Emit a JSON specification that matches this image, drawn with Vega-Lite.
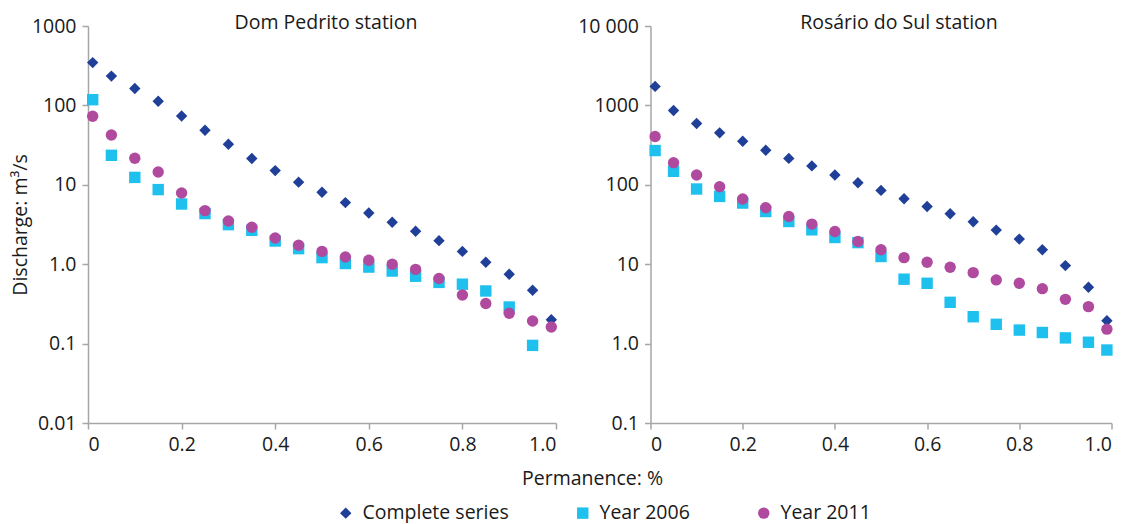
{
  "$schema": "https://vega.github.io/schema/vega-lite/v6.json",
  "padding": {"left": 10, "top": 12, "right": 0, "bottom": 0},
  "background": "white",
  "bounds": "flush",
  "config": {
    "font": "Open Sans",
    "view": {"stroke": null},
    "axis": {
      "grid": false,
      "domainColor": "#a6a6a6",
      "tickColor": "#a6a6a6",
      "domainWidth": 1.5,
      "tickWidth": 1.5,
      "tickSize": 6,
      "labelFont": "Open Sans",
      "labelFontSize": 19.5,
      "labelColor": "#1a1a1a",
      "labelPadding": 6,
      "titleFont": "Open Sans",
      "titleFontSize": 19.5,
      "titleFontWeight": "normal",
      "titleColor": "#1a1a1a"
    },
    "title": {"font": "Open Sans", "fontSize": 19.5, "fontWeight": "normal", "color": "#1a1a1a"},
    "legend": {"labelFont": "Open Sans", "labelFontSize": 19.5, "labelColor": "#1a1a1a", "padding": 0}
  },
  "datasets": {
    "d": [
      {"station": "Dom Pedrito", "series": "Complete series", "p": 0.01, "q": 346},
      {"station": "Dom Pedrito", "series": "Complete series", "p": 0.05, "q": 234},
      {"station": "Dom Pedrito", "series": "Complete series", "p": 0.10, "q": 163},
      {"station": "Dom Pedrito", "series": "Complete series", "p": 0.15, "q": 113},
      {"station": "Dom Pedrito", "series": "Complete series", "p": 0.20, "q": 73.6},
      {"station": "Dom Pedrito", "series": "Complete series", "p": 0.25, "q": 48.6},
      {"station": "Dom Pedrito", "series": "Complete series", "p": 0.30, "q": 32.4},
      {"station": "Dom Pedrito", "series": "Complete series", "p": 0.35, "q": 21.4},
      {"station": "Dom Pedrito", "series": "Complete series", "p": 0.40, "q": 15.1},
      {"station": "Dom Pedrito", "series": "Complete series", "p": 0.45, "q": 10.8},
      {"station": "Dom Pedrito", "series": "Complete series", "p": 0.50, "q": 8.05},
      {"station": "Dom Pedrito", "series": "Complete series", "p": 0.55, "q": 5.97},
      {"station": "Dom Pedrito", "series": "Complete series", "p": 0.60, "q": 4.41},
      {"station": "Dom Pedrito", "series": "Complete series", "p": 0.65, "q": 3.37},
      {"station": "Dom Pedrito", "series": "Complete series", "p": 0.70, "q": 2.6},
      {"station": "Dom Pedrito", "series": "Complete series", "p": 0.75, "q": 1.98},
      {"station": "Dom Pedrito", "series": "Complete series", "p": 0.80, "q": 1.45},
      {"station": "Dom Pedrito", "series": "Complete series", "p": 0.85, "q": 1.06},
      {"station": "Dom Pedrito", "series": "Complete series", "p": 0.90, "q": 0.746},
      {"station": "Dom Pedrito", "series": "Complete series", "p": 0.95, "q": 0.469},
      {"station": "Dom Pedrito", "series": "Complete series", "p": 0.99, "q": 0.2},
      {"station": "Dom Pedrito", "series": "Year 2006", "p": 0.01, "q": 118},
      {"station": "Dom Pedrito", "series": "Year 2006", "p": 0.05, "q": 23.5},
      {"station": "Dom Pedrito", "series": "Year 2006", "p": 0.10, "q": 12.4},
      {"station": "Dom Pedrito", "series": "Year 2006", "p": 0.15, "q": 8.7},
      {"station": "Dom Pedrito", "series": "Year 2006", "p": 0.20, "q": 5.73},
      {"station": "Dom Pedrito", "series": "Year 2006", "p": 0.25, "q": 4.34},
      {"station": "Dom Pedrito", "series": "Year 2006", "p": 0.30, "q": 3.15},
      {"station": "Dom Pedrito", "series": "Year 2006", "p": 0.35, "q": 2.67},
      {"station": "Dom Pedrito", "series": "Year 2006", "p": 0.40, "q": 1.96},
      {"station": "Dom Pedrito", "series": "Year 2006", "p": 0.45, "q": 1.57},
      {"station": "Dom Pedrito", "series": "Year 2006", "p": 0.50, "q": 1.21},
      {"station": "Dom Pedrito", "series": "Year 2006", "p": 0.55, "q": 1.02},
      {"station": "Dom Pedrito", "series": "Year 2006", "p": 0.60, "q": 0.92},
      {"station": "Dom Pedrito", "series": "Year 2006", "p": 0.65, "q": 0.82},
      {"station": "Dom Pedrito", "series": "Year 2006", "p": 0.70, "q": 0.705},
      {"station": "Dom Pedrito", "series": "Year 2006", "p": 0.75, "q": 0.59},
      {"station": "Dom Pedrito", "series": "Year 2006", "p": 0.80, "q": 0.56},
      {"station": "Dom Pedrito", "series": "Year 2006", "p": 0.85, "q": 0.46},
      {"station": "Dom Pedrito", "series": "Year 2006", "p": 0.90, "q": 0.289},
      {"station": "Dom Pedrito", "series": "Year 2006", "p": 0.95, "q": 0.095},
      {"station": "Dom Pedrito", "series": "Year 2011", "p": 0.01, "q": 72.9},
      {"station": "Dom Pedrito", "series": "Year 2011", "p": 0.05, "q": 42.4},
      {"station": "Dom Pedrito", "series": "Year 2011", "p": 0.10, "q": 21.6},
      {"station": "Dom Pedrito", "series": "Year 2011", "p": 0.15, "q": 14.5},
      {"station": "Dom Pedrito", "series": "Year 2011", "p": 0.20, "q": 7.9},
      {"station": "Dom Pedrito", "series": "Year 2011", "p": 0.25, "q": 4.73},
      {"station": "Dom Pedrito", "series": "Year 2011", "p": 0.30, "q": 3.5},
      {"station": "Dom Pedrito", "series": "Year 2011", "p": 0.35, "q": 2.92},
      {"station": "Dom Pedrito", "series": "Year 2011", "p": 0.40, "q": 2.14},
      {"station": "Dom Pedrito", "series": "Year 2011", "p": 0.45, "q": 1.73},
      {"station": "Dom Pedrito", "series": "Year 2011", "p": 0.50, "q": 1.45},
      {"station": "Dom Pedrito", "series": "Year 2011", "p": 0.55, "q": 1.23},
      {"station": "Dom Pedrito", "series": "Year 2011", "p": 0.60, "q": 1.12},
      {"station": "Dom Pedrito", "series": "Year 2011", "p": 0.65, "q": 1.0},
      {"station": "Dom Pedrito", "series": "Year 2011", "p": 0.70, "q": 0.86},
      {"station": "Dom Pedrito", "series": "Year 2011", "p": 0.75, "q": 0.66},
      {"station": "Dom Pedrito", "series": "Year 2011", "p": 0.80, "q": 0.41},
      {"station": "Dom Pedrito", "series": "Year 2011", "p": 0.85, "q": 0.32},
      {"station": "Dom Pedrito", "series": "Year 2011", "p": 0.90, "q": 0.241},
      {"station": "Dom Pedrito", "series": "Year 2011", "p": 0.95, "q": 0.193},
      {"station": "Dom Pedrito", "series": "Year 2011", "p": 0.99, "q": 0.162},
      {"station": "Rosário do Sul", "series": "Complete series", "p": 0.01, "q": 1734},
      {"station": "Rosário do Sul", "series": "Complete series", "p": 0.05, "q": 862},
      {"station": "Rosário do Sul", "series": "Complete series", "p": 0.10, "q": 591},
      {"station": "Rosário do Sul", "series": "Complete series", "p": 0.15, "q": 451},
      {"station": "Rosário do Sul", "series": "Complete series", "p": 0.20, "q": 353},
      {"station": "Rosário do Sul", "series": "Complete series", "p": 0.25, "q": 272},
      {"station": "Rosário do Sul", "series": "Complete series", "p": 0.30, "q": 215},
      {"station": "Rosário do Sul", "series": "Complete series", "p": 0.35, "q": 173},
      {"station": "Rosário do Sul", "series": "Complete series", "p": 0.40, "q": 133},
      {"station": "Rosário do Sul", "series": "Complete series", "p": 0.45, "q": 106},
      {"station": "Rosário do Sul", "series": "Complete series", "p": 0.50, "q": 85},
      {"station": "Rosário do Sul", "series": "Complete series", "p": 0.55, "q": 66.8},
      {"station": "Rosário do Sul", "series": "Complete series", "p": 0.60, "q": 53.4},
      {"station": "Rosário do Sul", "series": "Complete series", "p": 0.65, "q": 43.2},
      {"station": "Rosário do Sul", "series": "Complete series", "p": 0.70, "q": 34.2},
      {"station": "Rosário do Sul", "series": "Complete series", "p": 0.75, "q": 26.9},
      {"station": "Rosário do Sul", "series": "Complete series", "p": 0.80, "q": 20.7},
      {"station": "Rosário do Sul", "series": "Complete series", "p": 0.85, "q": 15.2},
      {"station": "Rosário do Sul", "series": "Complete series", "p": 0.90, "q": 9.6},
      {"station": "Rosário do Sul", "series": "Complete series", "p": 0.95, "q": 5.12},
      {"station": "Rosário do Sul", "series": "Complete series", "p": 0.99, "q": 1.94},
      {"station": "Rosário do Sul", "series": "Year 2006", "p": 0.01, "q": 270},
      {"station": "Rosário do Sul", "series": "Year 2006", "p": 0.05, "q": 148},
      {"station": "Rosário do Sul", "series": "Year 2006", "p": 0.10, "q": 88.5},
      {"station": "Rosário do Sul", "series": "Year 2006", "p": 0.15, "q": 71.4},
      {"station": "Rosário do Sul", "series": "Year 2006", "p": 0.20, "q": 58.9},
      {"station": "Rosário do Sul", "series": "Year 2006", "p": 0.25, "q": 46.1},
      {"station": "Rosário do Sul", "series": "Year 2006", "p": 0.30, "q": 34.5},
      {"station": "Rosário do Sul", "series": "Year 2006", "p": 0.35, "q": 27.1},
      {"station": "Rosário do Sul", "series": "Year 2006", "p": 0.40, "q": 21.7},
      {"station": "Rosário do Sul", "series": "Year 2006", "p": 0.45, "q": 18.7},
      {"station": "Rosário do Sul", "series": "Year 2006", "p": 0.50, "q": 12.5},
      {"station": "Rosário do Sul", "series": "Year 2006", "p": 0.55, "q": 6.47},
      {"station": "Rosário do Sul", "series": "Year 2006", "p": 0.60, "q": 5.75},
      {"station": "Rosário do Sul", "series": "Year 2006", "p": 0.65, "q": 3.31},
      {"station": "Rosário do Sul", "series": "Year 2006", "p": 0.70, "q": 2.18},
      {"station": "Rosário do Sul", "series": "Year 2006", "p": 0.75, "q": 1.75},
      {"station": "Rosário do Sul", "series": "Year 2006", "p": 0.80, "q": 1.48},
      {"station": "Rosário do Sul", "series": "Year 2006", "p": 0.85, "q": 1.38},
      {"station": "Rosário do Sul", "series": "Year 2006", "p": 0.90, "q": 1.18},
      {"station": "Rosário do Sul", "series": "Year 2006", "p": 0.95, "q": 1.04},
      {"station": "Rosário do Sul", "series": "Year 2006", "p": 0.99, "q": 0.83},
      {"station": "Rosário do Sul", "series": "Year 2011", "p": 0.01, "q": 405},
      {"station": "Rosário do Sul", "series": "Year 2011", "p": 0.05, "q": 190},
      {"station": "Rosário do Sul", "series": "Year 2011", "p": 0.10, "q": 133},
      {"station": "Rosário do Sul", "series": "Year 2011", "p": 0.15, "q": 94.6},
      {"station": "Rosário do Sul", "series": "Year 2011", "p": 0.20, "q": 66.2},
      {"station": "Rosário do Sul", "series": "Year 2011", "p": 0.25, "q": 51.4},
      {"station": "Rosário do Sul", "series": "Year 2011", "p": 0.30, "q": 39.9},
      {"station": "Rosário do Sul", "series": "Year 2011", "p": 0.35, "q": 32},
      {"station": "Rosário do Sul", "series": "Year 2011", "p": 0.40, "q": 25.8},
      {"station": "Rosário do Sul", "series": "Year 2011", "p": 0.45, "q": 19.3},
      {"station": "Rosário do Sul", "series": "Year 2011", "p": 0.50, "q": 15.2},
      {"station": "Rosário do Sul", "series": "Year 2011", "p": 0.55, "q": 12.1},
      {"station": "Rosário do Sul", "series": "Year 2011", "p": 0.60, "q": 10.6},
      {"station": "Rosário do Sul", "series": "Year 2011", "p": 0.65, "q": 9.16},
      {"station": "Rosário do Sul", "series": "Year 2011", "p": 0.70, "q": 7.83},
      {"station": "Rosário do Sul", "series": "Year 2011", "p": 0.75, "q": 6.34},
      {"station": "Rosário do Sul", "series": "Year 2011", "p": 0.80, "q": 5.75},
      {"station": "Rosário do Sul", "series": "Year 2011", "p": 0.85, "q": 4.92},
      {"station": "Rosário do Sul", "series": "Year 2011", "p": 0.90, "q": 3.61},
      {"station": "Rosário do Sul", "series": "Year 2011", "p": 0.95, "q": 2.92},
      {"station": "Rosário do Sul", "series": "Year 2011", "p": 0.99, "q": 1.52}
    ]
  },
  "spacing": 94.5,
  "hconcat": [
    {
      "width": 468,
      "height": 397,
      "title": {"text": "Dom Pedrito station", "dx": 4, "frame": "group", "baseline": "alphabetic", "offset": -32},
      "data": {"name": "d"},
      "transform": [{"filter": "datum.station == 'Dom Pedrito'"}],
      "mark": {"type": "point", "filled": true, "opacity": 1, "size": 130},
      "encoding": {
        "x": {
          "field": "p", "type": "quantitative",
          "scale": {"domain": [0, 1], "nice": false, "zero": false},
          "axis": {
            "values": [0, 0.2, 0.4, 0.6, 0.8, 1],
            "labelExpr": "datum.value == 0 ? '0' : format(datum.value, '.1f')",
            "title": "Permanence: %",
            "titleX": 504,
            "titlePadding": 16
          }
        },
        "y": {
          "field": "q", "type": "quantitative",
          "scale": {"type": "log", "domain": [0.01, 1000], "nice": false},
          "axis": {
            "values": [0.01, 0.1, 1, 10, 100, 1000],
            "labelExpr": "datum.value == 1 ? '1.0' : datum.value < 0.05 ? '0.01' : datum.value < 1 ? '0.1' : format(datum.value, 'd')",
            "title": "Discharge: m³/s",
            "titlePadding": 1
          }
        },
        "color": {
          "field": "series", "type": "nominal",
          "scale": {"domain": ["Complete series", "Year 2006", "Year 2011"], "range": ["#1f3f99", "#1ec0ee", "#b04a9e"]},
          "legend": {"title": null, "orient": "none", "direction": "horizontal", "legendX": 248, "legendY": 477, "columnPadding": 64, "symbolSize": 130, "labelOffset": 7}
        },
        "shape": {
          "field": "series", "type": "nominal",
          "scale": {"domain": ["Complete series", "Year 2006", "Year 2011"], "range": ["diamond", "square", "circle"]},
          "legend": {"title": null, "orient": "none", "direction": "horizontal", "legendX": 248, "legendY": 477, "columnPadding": 64, "symbolSize": 130, "labelOffset": 7}
        }
      }
    },
    {
      "width": 461,
      "height": 397,
      "title": {"text": "Rosário do Sul station", "dx": 18, "frame": "group", "baseline": "alphabetic", "offset": -32},
      "data": {"name": "d"},
      "transform": [{"filter": "datum.station == 'Rosário do Sul'"}],
      "mark": {"type": "point", "filled": true, "opacity": 1, "size": 130},
      "encoding": {
        "x": {
          "field": "p", "type": "quantitative",
          "scale": {"domain": [0, 1], "nice": false, "zero": false},
          "axis": {
            "values": [0, 0.2, 0.4, 0.6, 0.8, 1],
            "labelExpr": "datum.value == 0 ? '0' : format(datum.value, '.1f')",
            "title": null
          }
        },
        "y": {
          "field": "q", "type": "quantitative",
          "scale": {"type": "log", "domain": [0.1, 10000], "nice": false},
          "axis": {
            "values": [0.1, 1, 10, 100, 1000, 10000],
            "labelExpr": "datum.value == 10000 ? '10 000' : datum.value == 1 ? '1.0' : datum.value < 1 ? '0.1' : format(datum.value, 'd')",
            "title": null
          }
        },
        "color": {"field": "series", "type": "nominal"},
        "shape": {"field": "series", "type": "nominal"}
      }
    }
  ]
}
